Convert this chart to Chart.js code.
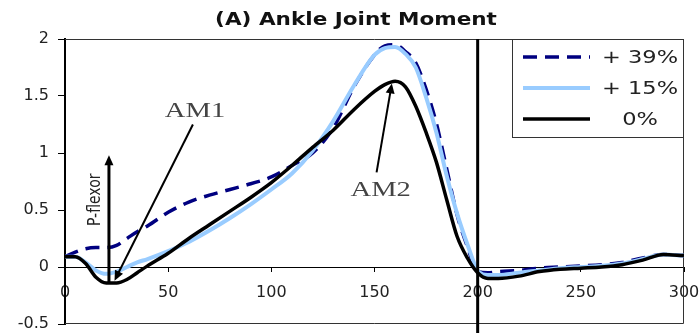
<!DOCTYPE html>
<html>
<head>
<meta charset="utf-8">
<script src="https://cdn.jsdelivr.net/npm/chart.js@4/dist/chart.umd.min.js"></script>
<style>
html,body{margin:0;padding:0;background:#fff;}
#wrap{width:699px;height:333px;}
</style>
</head>
<body>
<div id="wrap"><canvas id="c" width="699" height="333"></canvas></div>
<script>
// ---- data ----
const xValues = [0,5,10,15,20,25,30,35,40,50,60,70,80,90,100,110,120,130,140,150,155,160,165,170,175,180,185,190,195,200,205,210,220,230,240,250,260,270,280,290,300];
const plus39 = [0.09,0.13,0.16,0.17,0.17,0.19,0.25,0.31,0.36,0.48,0.57,0.63,0.68,0.73,0.79,0.89,1.00,1.22,1.58,1.86,1.94,1.95,1.89,1.79,1.56,1.26,0.86,0.46,0.18,-0.04,-0.05,-0.04,-0.03,-0.01,0.00,0.01,0.02,0.04,0.08,0.11,0.10];
const plus15 = [0.09,0.09,0.04,-0.03,-0.06,-0.04,0.00,0.04,0.07,0.14,0.22,0.32,0.43,0.55,0.68,0.82,1.02,1.28,1.59,1.86,1.92,1.93,1.87,1.75,1.49,1.18,0.80,0.47,0.20,-0.03,-0.07,-0.07,-0.05,-0.03,-0.01,0.00,0.01,0.03,0.07,0.11,0.10];
const zero   = [0.09,0.09,0.03,-0.09,-0.14,-0.14,-0.11,-0.05,0.01,0.12,0.25,0.37,0.49,0.61,0.74,0.89,1.05,1.20,1.38,1.54,1.60,1.63,1.58,1.41,1.18,0.92,0.59,0.27,0.08,-0.05,-0.10,-0.10,-0.08,-0.04,-0.02,-0.01,0.00,0.02,0.06,0.11,0.10];
const seriesLabels = ['+ 39%','+ 15%','0%'];
const xTickValues = [0,50,100,150,200,250,300];
const yTickValues = [-0.5,0,0.5,1,1.5,2];
const yTickLabels = ['-0.5','0','0.5','1','1.5','2'];
const titleText = '(A) Ankle Joint Moment';
const markerX = 200;

// annotation texts and their anchor points (data space)
const notes = [
  {text:'AM1', font:'22px "Liberation Serif"', at:[63,1.37], arrowFrom:[62,1.25], arrowTo:[24,-0.12], lw:2},
  {text:'AM2', font:'22px "Liberation Serif"', at:[153,0.675], arrowFrom:[151,0.83], arrowTo:[158.4,1.61], lw:2},
  {text:'P-flexor', font:'14px "DejaVu Sans"', at:[14.5,0.59], rotate:true, arrowFrom:[21.3,-0.14], arrowTo:[21.3,0.98], lw:3}
];

const pts = arr => xValues.map((x,i)=>({x:x, y:arr[i]}));

const SX = 1.3; // horizontal text stretch seen in the reference

const decor = {
  id:'decor',
  beforeDatasetsDraw(chart){
    const {ctx, chartArea:a} = chart;
    ctx.save();
    ctx.strokeStyle = '#333';
    ctx.lineWidth = 1;
    ctx.beginPath();
    ctx.moveTo(a.left, a.top+0.5); ctx.lineTo(a.right-0.5, a.top+0.5);
    ctx.lineTo(a.right-0.5, a.bottom-0.5); ctx.lineTo(a.left, a.bottom-0.5);
    ctx.stroke();
    ctx.restore();
  },
  afterDatasetsDraw(chart){
    const {ctx, chartArea:a, scales:{x, y}} = chart;
    ctx.save();
    // vertical marker line
    const vx = x.getPixelForValue(markerX);
    ctx.strokeStyle = '#000'; ctx.lineWidth = 3;
    ctx.beginPath(); ctx.moveTo(vx, a.top); ctx.lineTo(vx, chart.height); ctx.stroke();

    // annotations
    notes.forEach(n=>{
      const x1 = x.getPixelForValue(n.arrowFrom[0]), y1 = y.getPixelForValue(n.arrowFrom[1]);
      const x2 = x.getPixelForValue(n.arrowTo[0]), y2 = y.getPixelForValue(n.arrowTo[1]);
      const ang = Math.atan2(y2-y1, x2-x1);
      const hl = 10, hw = 4.5;
      ctx.strokeStyle = '#000'; ctx.fillStyle = '#000'; ctx.lineWidth = n.lw;
      ctx.beginPath(); ctx.moveTo(x1,y1);
      ctx.lineTo(x2 - Math.cos(ang)*hl*0.8, y2 - Math.sin(ang)*hl*0.8); ctx.stroke();
      ctx.beginPath();
      ctx.moveTo(x2,y2);
      ctx.lineTo(x2 - Math.cos(ang)*hl - Math.sin(ang)*hw, y2 - Math.sin(ang)*hl + Math.cos(ang)*hw);
      ctx.lineTo(x2 - Math.cos(ang)*hl + Math.sin(ang)*hw, y2 - Math.sin(ang)*hl - Math.cos(ang)*hw);
      ctx.closePath(); ctx.fill();
      const tx = x.getPixelForValue(n.at[0]), ty = y.getPixelForValue(n.at[1]);
      ctx.save();
      ctx.translate(tx, ty);
      if (n.rotate) { ctx.rotate(-Math.PI/2); ctx.scale(1, SX); }
      else ctx.scale(SX, 1);
      ctx.font = n.font; ctx.fillStyle = n.rotate ? '#222' : '#444';
      ctx.textAlign = 'center'; ctx.textBaseline = 'middle';
      ctx.fillText(n.text, 0, 0);
      ctx.restore();
    });

    // legend box
    const lx = 512, ly = a.top, lr = a.right, lb = 137;
    ctx.fillStyle = '#fff';
    ctx.fillRect(lx, ly, lr-lx, lb-ly);
    ctx.strokeStyle = '#333'; ctx.lineWidth = 1;
    ctx.strokeRect(lx+0.5, ly+0.5, lr-lx-1, lb-ly);
    const rows = [57, 88, 119];
    chart.data.datasets.forEach((ds,i)=>{
      const ry = rows[i];
      ctx.save();
      ctx.strokeStyle = ds.borderColor; ctx.lineWidth = ds.borderWidth;
      ctx.setLineDash(ds.borderDash || []);
      ctx.lineCap = 'butt';
      ctx.beginPath(); ctx.moveTo(523, ry); ctx.lineTo(590, ry); ctx.stroke();
      ctx.restore();
      ctx.save();
      ctx.translate(640, ry+1);
      ctx.scale(1.25,1);
      ctx.font = '18px "DejaVu Sans"'; ctx.fillStyle = '#222';
      ctx.textAlign = 'center'; ctx.textBaseline = 'middle';
      ctx.fillText(ds.label, 0, 0);
      ctx.restore();
    });
    ctx.restore();
  }
};

// title drawn stretched like the reference
const titleDraw = {
  id:'titleDraw',
  afterDraw(chart){
    const ctx = chart.ctx;
    ctx.save();
    ctx.translate(356, 20);
    ctx.scale(SX*0.92,1);
    ctx.font = 'bold 18px "DejaVu Sans"'; ctx.fillStyle = '#111';
    ctx.textAlign = 'center'; ctx.textBaseline = 'middle';
    ctx.fillText(titleText, 0, 0);
    ctx.restore();
  }
};

new Chart(document.getElementById('c'), {
  type:'line',
  data:{
    datasets:[
      {label:seriesLabels[0], data:pts(plus39), borderColor:'#000080', borderWidth:3.5, borderDash:[14,8], pointRadius:0, cubicInterpolationMode:'monotone', order:2, fill:false},
      {label:seriesLabels[1], data:pts(plus15), borderColor:'#99ccff', borderWidth:4, pointRadius:0, cubicInterpolationMode:'monotone', order:1, fill:false},
      {label:seriesLabels[2], data:pts(zero), borderColor:'#000000', borderWidth:3.5, pointRadius:0, cubicInterpolationMode:'monotone', order:0, fill:false}
    ]
  },
  options:{
    responsive:false, animation:false, devicePixelRatio:1,
    layout:{padding:{left:0, right:15, top:39, bottom:9}},
    plugins:{legend:{display:false}, tooltip:{enabled:false}, title:{display:false}},
    scales:{
      x:{
        type:'linear', min:0, max:300, position:{y:0},
        afterFit(s){ s.height = 0; s.paddingLeft = 0; s.paddingRight = 0; s.paddingTop = 0; s.paddingBottom = 0; },
        afterBuildTicks(s){ s.ticks = xTickValues.map(v=>({value:v})); },
        ticks:{color:'#222', font:{family:'DejaVu Sans', size:16}, padding:12, maxRotation:0, autoSkip:false},
        grid:{drawOnChartArea:false, drawTicks:true, tickLength:4, color:'#000'},
        border:{display:true, color:'#000', width:1}
      },
      y:{
        min:-0.5, max:2,
        afterFit(s){ s.width = 65; s.paddingLeft = 0; s.paddingRight = 0; s.paddingTop = 0; s.paddingBottom = 0; },
        afterBuildTicks(s){ s.ticks = yTickValues.map(v=>({value:v})); },
        ticks:{color:'#222', font:{family:'DejaVu Sans', size:16}, padding:9, crossAlign:'near',
          callback:(v)=>{ const i = yTickValues.indexOf(v); return i>=0 ? yTickLabels[i] : ''; }},
        grid:{drawOnChartArea:false, drawTicks:true, tickLength:7, color:'#000'},
        border:{display:true, color:'#000', width:2}
      }
    }
  },
  plugins:[decor, titleDraw]
});
</script>
</body>
</html>
